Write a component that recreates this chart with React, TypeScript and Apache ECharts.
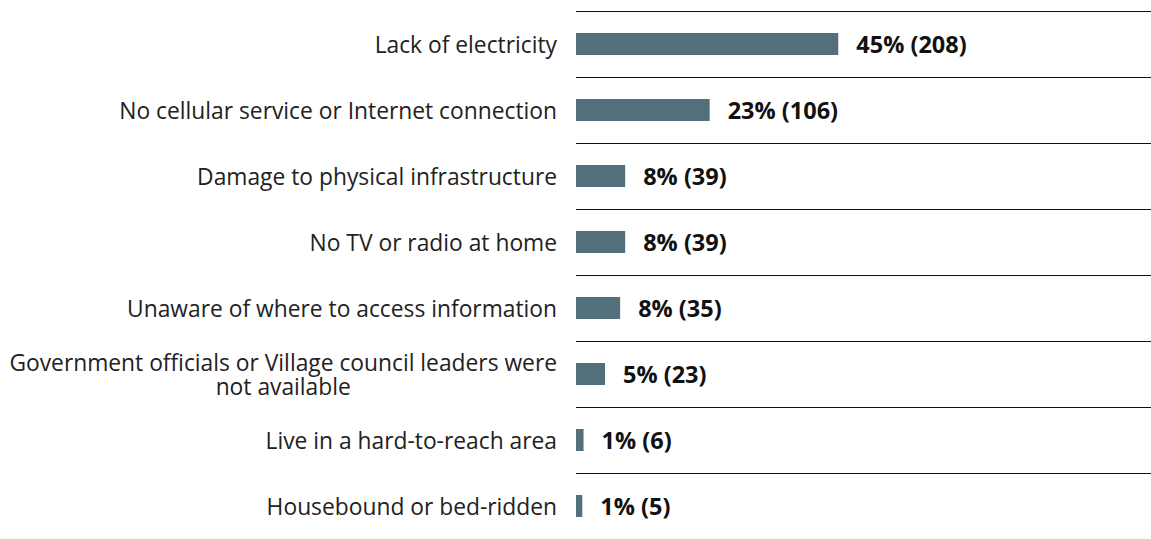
import React, { useEffect, useRef } from "react";
import * as echarts from "echarts";

const categories = [
  "Lack of electricity",
  "No cellular service or Internet connection",
  "Damage to physical infrastructure",
  "No TV or radio at home",
  "Unaware of where to access information",
  "Government officials or Village council leaders were\nnot available",
  "Live in a hard-to-reach area",
  "Housebound or bed-ridden",
];
const counts = [208, 106, 39, 39, 35, 23, 6, 5];
const percents = [45, 23, 8, 8, 8, 5, 1, 1];

export default function App() {
  const ref = useRef<HTMLDivElement>(null);
  useEffect(() => {
    if (!ref.current) return;
    const chart = echarts.init(ref.current, null, { renderer: "svg" });
    chart.setOption({
      animation: false,
      grid: { left: 576, right: 0, top: 11, height: 533.6, containLabel: false },
      xAxis: {
        type: "value",
        min: 0,
        max: 456,
        show: false,
      },
      yAxis: {
        type: "category",
        inverse: true,
        data: categories,
        axisLine: { show: false },
        axisTick: { show: false },
        splitLine: { show: true, lineStyle: { color: "#111", width: 1 } },
        axisLabel: {
          margin: 19,
          color: "#222",
          fontFamily: "Open Sans",
          fontSize: 22.8,
          lineHeight: 24,
          formatter: (v: string) =>
            v
              .split("\n")
              .map((l) => `{c|${l}}`)
              .join("\n"),
          rich: {
            c: {
              align: "center",
              color: "#222",
              fontFamily: "Open Sans",
              fontSize: 22.8,
              lineHeight: 24,
            },
          },
        },
      },
      series: [
        {
          type: "bar",
          data: counts,
          barWidth: 22,
          itemStyle: { color: "#536f7c" },
          label: {
            show: true,
            position: "right",
            distance: 18,
            fontFamily: "Open Sans",
            fontWeight: "bold",
            fontSize: 23.5,
            color: "#111",
            formatter: (p: any) => `${percents[p.dataIndex]}% (${counts[p.dataIndex]})`,
          },
        },
      ],
    });
    return () => chart.dispose();
  }, []);
  return <div ref={ref} style={{ width: 1151, height: 539, position: "absolute", left: 0, top: 0 }} />;
}
